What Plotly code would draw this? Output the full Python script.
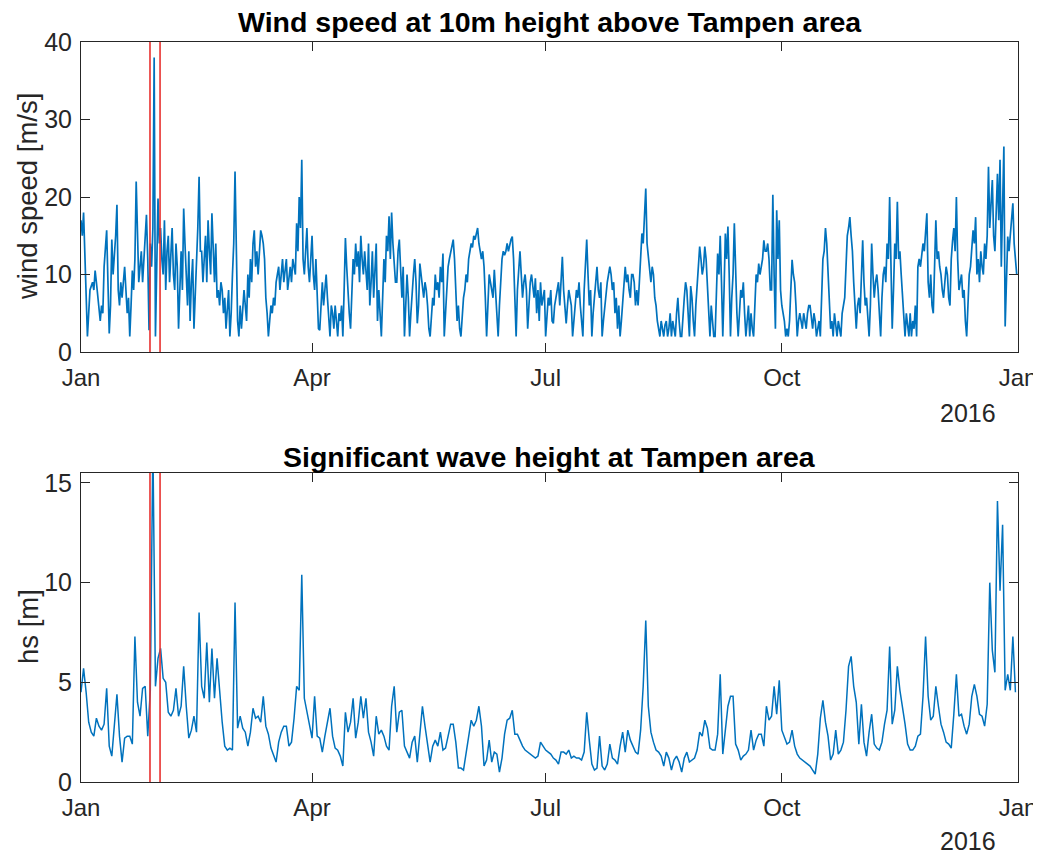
import pandas as pd
import plotly.graph_objects as go
from plotly.subplots import make_subplots

# ---------------- data ----------------
# wind speed [m/s], two readings per day (00h, 12h), one list per month of 2015
wind_jan = [17,15, 18,12, 6,2, 5,8, 8.5,9, 8,10.5, 9,7, 5,4, 6,5, 11,14, 15.7,9, 2.4,6, 14.5,10, 12,15,
            19,8, 6,9, 7,9, 11,8, 5,7, 2,6, 10.5,8, 12,22, 13,9, 11,13, 9,12, 14,17.7, 12,2.8, 14,11,
            16,38, 2,12, 19.8,14]
wind_feb = [16,12, 10,17, 8,13, 15,9, 12,16, 10,8, 14,11, 3,9, 13,8, 18.5,14, 10,6, 13,4, 9,12, 3,7,
            11,16, 22.6,13, 13,9, 12,15, 9,17, 13,10, 17.9,12, 9,14, 7,8, 6,9, 8,5, 7,3, 6,8, 2,5]
wind_mar = [10,14, 23.3,12, 4,2, 6,3, 5,8, 6,4, 10,7, 12,9, 14,15.7, 11,13, 10,14, 15.7,15, 14,12, 7,5,
            2,4, 6,5, 7,6, 9,10, 11,8, 10,12, 9,11, 12,8, 10,11, 9,12, 11,10, 16.6,13, 20,16, 24.8,12,
            10,13, 16,11, 9,12]
wind_apr = [15,10, 8,12, 6,3, 2.8,7, 9,6, 8,10, 7,5, 2,6, 5,3, 6,4, 2,5, 4,6, 2,8, 14.7,11, 7,5, 3,9,
            12,10, 14,11, 13,9, 15,12, 10,13, 11,8, 14,6, 9,13, 7,10, 14,4, 8,5, 2,7, 12,9, 15,13]
wind_may = [17.5,12, 18,14, 11,9, 9,13, 14.5,10, 7,11, 2,6, 10,7, 2,5, 8,10, 12,9, 3.7,6, 11.4,10, 9,7,
            9,8, 6,3, 2,5, 7,6, 10,8, 9,7, 11,9, 12.7,2, 5,9, 11,12, 13,14, 14.5,12, 8,4, 6,3, 2,5,
            7,8, 10,9]
wind_jun = [12,13, 14,13.5, 15,14.5, 15.5,16, 14,13, 12,13, 11,7, 2,6, 10,9, 8,7, 10.6,8, 4,2, 6,9,
            12,13, 12.5,13, 14,13, 14,14.5, 14.9,12, 7,2, 8,11, 13,10, 7,9, 10,8, 3,6, 9,10, 8,7,
            9.5,5, 8,4, 9,6, 7,8]
wind_jul = [2,5, 7,6, 8,4, 3.7,6, 7,8, 9,6, 10,12.3, 8,5, 3.7,6, 8,7, 6,2, 4,5, 8,7, 9,6, 4,2, 8,12,
            14.5,10, 6,8, 2,5, 7,9, 11,8, 7,9, 2,4, 6,8, 9,10, 11,10, 8,9, 5,7, 3,6, 2,4, 6,8]
wind_aug = [11,9, 10,8, 7,10, 10,9, 6,8, 6,9, 13,15.3, 14,17, 21.1,14, 12,10, 9,11, 10,7, 6,4, 3,2,
            4,3, 2,3.5, 4,2, 3,5, 2,4, 3,2, 5,7, 4,2, 2,5, 7,9, 8,5, 2,8.5, 7,4, 2,6, 9,11, 13.6,12,
            10,11]
wind_sep = [13.6,12, 8,5, 2,6, 4,2, 2,8, 12.7,10, 15,9, 2,8, 15.3,12, 16.2,10, 2,7, 10,16.6, 9,5, 2,6,
            8,7, 9,5, 2,4, 6,2, 5,3, 2,6, 10,9, 11.4,10, 11,12, 14.4,13, 13,14, 12,8, 8,20.3, 10,3,
            18.3,12, 17,8]
wind_oct = [6,5, 4,2, 3,2, 4,8, 11.9,10, 9,6, 2,4, 5,4, 3,5, 4,3, 5,6, 6,4, 3,5, 4,2, 3,4, 2,7,
            12,13, 16,14, 10,7, 3,4, 2,5, 3,2, 4,3, 2,5, 6,7, 11,15, 16,17.4, 15,13, 9,5, 3,6, 7,5]
wind_nov = [10,14.4, 9,6, 7,5, 2,6, 14,10, 7,9, 10,8, 5,2, 7,10, 11,9, 14,12, 20,10, 3,8, 14,12,
            19.4,12, 13,10, 7,4, 2,5, 3,2, 5,2, 4,3, 6,2, 11,12, 11,13, 14,13, 15,17.9, 9,7, 10,6,
            5,13, 17,12]
wind_dec = [13,11, 10,8, 7,9, 11,10, 7,6, 12,14.3, 16,13, 20,12, 8,9, 10,7, 8,4, 2,6, 10,11,
            13,15.7, 14,17.4, 10,12, 9,13, 11,10, 14,12, 15,23.9, 16,19, 22.2,15, 13,18, 23,17,
            24.8,11, 20,26.5, 3.3,10, 14.9,13, 15,17, 19.2,14, 11.4,10]

# significant wave height [m], one reading per day, one list per month of 2015
wave_jan = [4.5,5.7,4.5,3.0,2.5,2.3,3.2,2.8,2.6,2.9,4.7,1.8,1.3,2.7,4.4,2.3,1.0,2.2,2.3,2.3,1.9,
            7.3,4.0,3.3,4.7,4.8,2.3,4.6,17,4.8,6.2]
wave_feb = [6.7,5.2,5.0,3.5,3.3,3.6,4.7,3.3,3.8,5.8,3.8,2.2,2.6,3.3,2.5,8.5,4.8,4.2,7.0,4.0,6.7,
            4.2,6.2,4.5,3.0,1.8,1.6,1.7]
wave_mar = [1.6,9.0,2.7,3.3,2.7,2.5,1.8,2.5,3.7,3.2,3.3,3.0,4.3,2.8,2.4,1.7,1.3,1.0,2.0,2.5,2.8,
            2.8,1.8,2.0,3.2,4.8,4.6,10.4,4.2,3.5,3.0]
wave_apr = [2.2,4.3,2.3,2.2,1.5,2.3,3.0,3.7,2.3,1.7,1.6,1.3,0.8,3.5,2.5,3.0,4.2,2.2,3.0,4.3,3.2,
            4.2,2.5,2.0,1.3,3.3,2.4,2.6,2.3,1.8]
wave_may = [1.6,3.8,4.8,2.5,3.5,3.6,1.8,1.5,1.2,2.0,2.3,1.0,2.5,3.8,2.8,1.8,1.0,1.8,2.1,1.8,2.5,
            1.6,1.7,2.3,2.9,2.9,2.0,0.7,0.7,0.6,1.5]
wave_jun = [2.3,3.1,2.8,3.1,3.8,2.8,0.8,1.1,2.1,1.0,1.5,1.4,0.5,1.2,2.4,3.1,3.2,3.6,2.4,2.4,2.1,
            1.8,1.6,1.5,1.4,1.3,1.2,1.3,2.0,1.8]
wave_jul = [1.6,1.5,1.4,1.2,1.1,0.9,1.5,1.5,1.4,1.6,1.2,1.3,1.2,1.2,1.1,1.5,3.5,2.1,0.9,0.6,0.7,
            2.3,0.8,0.6,0.9,1.9,1.2,1.1,0.9,1.8,2.5]
wave_aug = [1.5,2.6,2.1,1.8,1.5,1.4,2.6,4.8,8.1,3.8,2.5,2.0,1.6,1.5,1.3,0.8,1.5,1.2,0.6,1.1,1.3,
            1.0,0.5,1.2,1.5,1.0,1.1,1.2,1.6,2.5,2.3]
wave_sep = [3.1,2.7,1.7,1.6,1.6,2.4,5.4,1.4,2.6,3.8,4.3,4.3,1.9,1.6,1.1,1.3,1.4,1.6,2.6,1.6,2.1,
            2.4,2.4,1.8,3.8,3.1,3.3,4.8,3.4,5.1]
wave_oct = [2.6,2.2,1.9,2.0,2.6,1.8,1.4,1.2,1.1,1.0,0.9,0.8,0.6,0.4,1.4,3.2,4.1,3.0,2.3,1.1,1.4,
            2.6,1.4,1.6,2.0,3.6,5.8,6.3,4.8,4.0,1.9]
wave_nov = [3.9,2.0,1.3,2.5,3.4,1.9,1.7,1.6,2.0,2.9,3.6,6.8,2.9,3.6,5.8,4.6,3.8,2.9,1.9,1.6,1.6,
            1.8,2.3,2.4,4.3,7.3,4.3,3.1,3.3,4.8]
wave_dec = [3.8,2.9,2.5,2.0,1.9,1.7,3.4,5.4,3.3,3.4,2.8,2.4,2.9,4.3,4.9,4.3,3.4,3.3,2.8,3.9,10.0,
            6.6,5.5,14.1,9.6,12.9,4.6,5.4,4.6,7.3,4.5]

# marked event window (red lines)
event_window = ["2015-01-27 21:00", "2015-01-31 19:00"]

# axis ticks
x_tickvals = ["2015-01-01", "2015-04-01", "2015-07-01", "2015-10-01", "2016-01-01"]
x_ticktext = ["Jan", "Apr", "Jul", "Oct", "Jan"]
year_label = "2016"
wind_ticks = [0, 10, 20, 30, 40]
wave_ticks = [0, 5, 10, 15]

titles = ["Wind speed at 10m height above Tampen area", "Significant wave height at Tampen area"]
ylabels = ["wind speed [m/s]", "hs [m]"]

# ---------------- assemble time series ----------------
wind_months = [wind_jan, wind_feb, wind_mar, wind_apr, wind_may, wind_jun,
               wind_jul, wind_aug, wind_sep, wind_oct, wind_nov, wind_dec]
wave_months = [wave_jan, wave_feb, wave_mar, wave_apr, wave_may, wave_jun,
               wave_jul, wave_aug, wave_sep, wave_oct, wave_nov, wave_dec]

wind_t, wind_v = [], []
for m, vals in enumerate(wind_months):
    wind_t += list(pd.date_range(pd.Timestamp(2015, m + 1, 1), periods=len(vals), freq="12h"))
    wind_v += vals
wave_t, wave_v = [], []
for m, vals in enumerate(wave_months):
    wave_t += list(pd.date_range(pd.Timestamp(2015, m + 1, 1), periods=len(vals), freq="D"))
    wave_v += vals

# ---------------- figure ----------------
OFF = 8                      # page body margin of the html page
PW, PHT = 1041, 855          # page (screenshot) size
W, H = PW - OFF, PHT - OFF   # figure size
# plot-area edges in page pixels
PL, PR = 81, 1018
ML = PL - OFF
MR = W - (PR - OFF)
MT = 42 - OFF
MB = H - (782 - OFF)
PH = H - MT - MB

def fy(py):  # page pixel y -> paper fraction
    return (H - MB - (py - OFF)) / PH

def fx(px):  # page pixel x -> paper fraction
    return (px - PL) / (PR - PL)

FONT = "Liberation Sans, Arial, Helvetica, sans-serif"
TXT = "#262626"
BLUE = "#0072BD"
RED = "#E8312F"

fig = make_subplots(rows=2, cols=1)
fig.add_trace(go.Scatter(x=wind_t, y=wind_v, mode="lines",
                         line=dict(color=BLUE, width=1.7), showlegend=False), row=1, col=1)
fig.add_trace(go.Scatter(x=wave_t, y=wave_v, mode="lines",
                         line=dict(color=BLUE, width=1.5), showlegend=False), row=2, col=1)

for xr, yr in [("x", "y domain"), ("x2", "y2 domain")]:
    for d in event_window:
        fig.add_shape(type="line", xref=xr, yref=yr, x0=d, x1=d, y0=0, y1=1,
                      line=dict(color=RED, width=1.6), layer="above")

xcommon = dict(range=["2015-01-01", "2016-01-01"], tickvals=x_tickvals, ticktext=x_ticktext,
               ticks="inside", ticklen=9, tickwidth=1, tickcolor=TXT,
               showline=True, linecolor=TXT, linewidth=1, mirror="ticks",
               showgrid=False, zeroline=False, automargin=False,
               tickfont=dict(family=FONT, size=24, color=TXT), ticklabelstandoff=4)
ycommon = dict(ticks="inside", ticklen=9, tickwidth=1, tickcolor=TXT,
               showline=True, linecolor=TXT, linewidth=1, mirror="ticks",
               showgrid=False, zeroline=False, automargin=False,
               tickfont=dict(family=FONT, size=25, color=TXT), ticklabelstandoff=3)

fig.update_xaxes(**xcommon)
fig.update_yaxes(**ycommon)
fig.update_layout(
    xaxis=dict(domain=[0, 1]), xaxis2=dict(domain=[0, 1]),
    yaxis=dict(domain=[fy(352), fy(42)], range=[0, 40], tickvals=wind_ticks),
    yaxis2=dict(domain=[fy(782), fy(473)], range=[0, 15.5], tickvals=wave_ticks),
)

ann = []
for title, py in zip(titles, [22, 457]):
    ann.append(dict(text="<b>" + title + "</b>", xref="paper", yref="paper", x=0.5, y=fy(py),
                    xanchor="center", yanchor="middle", showarrow=False,
                    font=dict(family=FONT, size=28.5, color="black")))
for lab, py in zip(ylabels, [197, 627]):
    ann.append(dict(text=lab, xref="paper", yref="paper", x=fx(28), y=fy(py), textangle=-90,
                    xanchor="center", yanchor="middle", showarrow=False,
                    font=dict(family=FONT, size=27.5, color=TXT)))
for py in [413, 841]:
    ann.append(dict(text=year_label, xref="paper", yref="paper", x=fx(998), y=fy(py),
                    xanchor="right", yanchor="middle", showarrow=False,
                    font=dict(family=FONT, size=25, color=TXT)))

fig.update_layout(
    width=W, height=H, margin=dict(l=ML, r=MR, t=MT, b=MB, autoexpand=False),
    paper_bgcolor="white", plot_bgcolor="white",
    annotations=ann, showlegend=False,
)

fig.write_html("out.html")
